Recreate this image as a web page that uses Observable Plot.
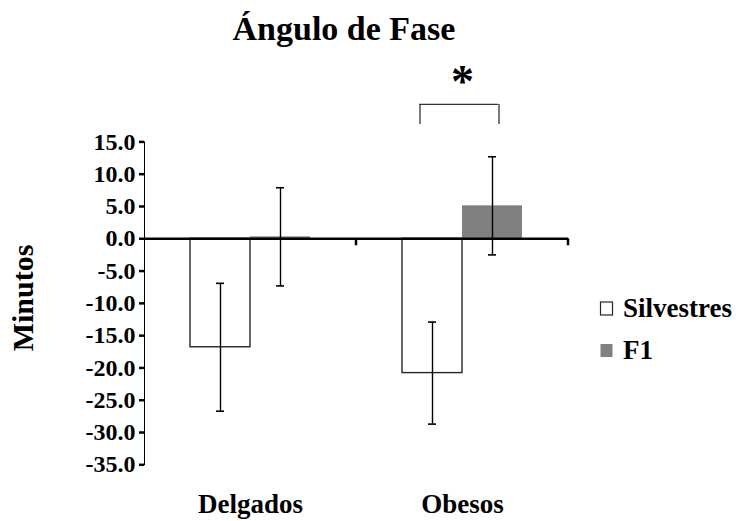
<!DOCTYPE html>
<html>
<head>
<meta charset="utf-8">
<script src="https://cdn.jsdelivr.net/npm/d3@7"></script>
<script src="https://cdn.jsdelivr.net/npm/@observablehq/plot@0.6"></script>
<style>
  body { margin: 0; background: #fff; }
  #chart { position: relative; width: 736px; height: 521px; }
  #chart svg { overflow: visible; }
  #chart svg text { font-family: 'Liberation Serif', 'Times New Roman', serif; }
  [aria-label^="y-axis"] { font-size: 24px; font-weight: bold; font-family: 'Liberation Serif', 'Times New Roman', serif; }
  [aria-label^="y-axis"] line,
  [aria-label^="y-axis"] path { stroke: #000; stroke-width: 2.5px; }
</style>
</head>
<body>
<div id="chart"></div>
<script>
// Phase angle (minutes) by body type and strain
const groups = ["Delgados", "Obesos"];
const series = ["Silvestres", "F1"];
const seriesColors = ["#ffffff", "#808080"];
const silvestresMean = [-16.8, -20.8];
const silvestresErr = [9.9, 7.9];
const f1Mean = [0.3, 5.1];
const f1Err = [7.6, 7.6];
const yTicks = [15, 10, 5, 0, -5, -10, -15, -20, -25, -30, -35];
const title = "Ángulo de Fase";
const yLabel = "Minutos";
// significance bracket between the two Obesos bars
const sigGroup = "Obesos";
const sigLabel = "*";
const sigLow = 17.7, sigHigh = 20.8, sigStar = 24.3;

const rows = groups.flatMap((group, i) => [
  {group, series: series[0], mean: silvestresMean[i], err: silvestresErr[i]},
  {group, series: series[1], mean: f1Mean[i], err: f1Err[i]}
]);

const serif = "'Liberation Serif', 'Times New Roman', serif";
const inSig = d => d.group === sigGroup;
const textStyle = {fontFamily: serif, fontWeight: "bold", fill: "#000"};

const chart = Plot.plot({
  width: 736,
  height: 521,
  marginTop: 141.4,
  marginBottom: 56.7,
  marginLeft: 144,
  marginRight: 167.3,
  style: {fontFamily: serif, background: "#fff", color: "#000"},
  facet: {data: rows, x: "group", marginTop: 0, marginBottom: 0, marginLeft: 0, marginRight: 0},
  fx: {domain: groups, padding: 0, axis: null, label: null},
  x: {domain: series, paddingInner: 0, paddingOuter: 0.755, align: 0.5, axis: null},
  y: {
    domain: [-35, 15],
    ticks: yTicks,
    tickFormat: d => d.toFixed(1),
    tickSize: 5,
    tickPadding: 4,
    line: true,
    label: null
  },
  marks: [
    Plot.barY(rows, {filter: d => d.series === series[0], x: "series", y: "mean",
      fill: seriesColors[0], stroke: "#262626", strokeWidth: 1.4}),
    Plot.barY(rows, {filter: d => d.series === series[1], x: "series", y: "mean",
      fill: seriesColors[1]}),
    Plot.ruleX(rows, {x: "series", y1: d => d.mean - d.err, y2: d => d.mean + d.err,
      stroke: "#000", strokeWidth: 1.4}),
    Plot.tickY(rows, {x: "series", y: d => d.mean - d.err, insetLeft: 26, insetRight: 26,
      stroke: "#000", strokeWidth: 1.6}),
    Plot.tickY(rows, {x: "series", y: d => d.mean + d.err, insetLeft: 26, insetRight: 26,
      stroke: "#000", strokeWidth: 1.6}),
    Plot.ruleY([0], {stroke: "#000", strokeWidth: 2.5}),
    // category boundary ticks below the zero line
    (index, scales, values, dimensions) => {
      const y0 = scales.y(0);
      const right = dimensions.width - dimensions.marginRight;
      const g = d3.create("svg:g");
      g.append("line")
        .attr("x1", right).attr("x2", right)
        .attr("y1", y0).attr("y2", y0 + 7)
        .attr("stroke", "#000").attr("stroke-width", 2.5);
      return g.node();
    },
    // category labels
    Plot.text(rows, Plot.selectFirst({text: "group", frameAnchor: "bottom", dy: 48,
      fontSize: 27, ...textStyle})),
    // significance bracket and star
    Plot.ruleX(rows, {filter: d => inSig(d) && d.series === series[0], x: "series",
      y1: sigLow, y2: sigHigh, dx: -12.5, stroke: "#333", strokeWidth: 1.3}),
    Plot.ruleX(rows, {filter: d => inSig(d) && d.series === series[1], x: "series",
      y1: sigLow, y2: sigHigh, dx: 6.5, stroke: "#333", strokeWidth: 1.3}),
    Plot.ruleY(rows, Plot.selectFirst({filter: inSig, y: sigHigh,
      x1: () => series[0], x2: () => series[1], insetLeft: 17.3, insetRight: 24,
      stroke: "#333", strokeWidth: 1.3})),
    Plot.text(rows, Plot.selectFirst({filter: inSig, text: () => sigLabel, y: sigStar,
      fontSize: 46, ...textStyle}))
  ]
});

const svg = d3.select(chart);
svg.append("text")
  .attr("x", 344).attr("y", 40)
  .attr("text-anchor", "middle")
  .style("font", `bold 34px ${serif}`)
  .attr("fill", "#000")
  .text(title);

svg.append("text")
  .attr("transform", "translate(33,298) rotate(-90)")
  .attr("text-anchor", "middle")
  .style("font", `bold 30px ${serif}`)
  .attr("fill", "#000")
  .text(yLabel);

const legend = svg.append("g").attr("text-anchor", "start");
series.forEach((s, i) => {
  const top = 302 + i * 42;
  legend.append("rect")
    .attr("x", 600.5).attr("y", top).attr("width", 12).attr("height", 13)
    .attr("fill", seriesColors[i])
    .attr("stroke", i === 0 ? "#262626" : "none").attr("stroke-width", 1.2);
  legend.append("text")
    .attr("x", 623).attr("y", top + 15)
    .attr("text-anchor", "start")
    .style("font", `bold 27px ${serif}`)
    .attr("fill", "#000")
    .text(s);
});

document.getElementById("chart").appendChild(chart);
</script>
</body>
</html>
